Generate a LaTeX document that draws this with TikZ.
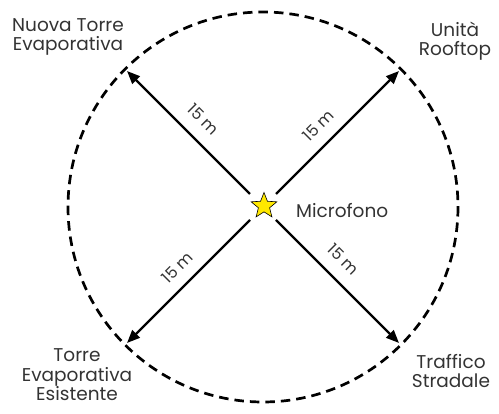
\documentclass[tikz,border=0pt]{standalone}
\usepackage{fontspec}
\setmainfont{Poppins}
\usetikzlibrary{shapes.geometric,arrows.meta}
\definecolor{txt}{HTML}{333333}
\definecolor{staryellow}{HTML}{FFE800}
\begin{document}
\begin{tikzpicture}[x=1pt,y=-1pt,
  lbl/.style={text=txt,font=\fontsize{18.5}{19.5}\selectfont,align=center,inner sep=0pt},
  dist/.style={text=txt,font=\fontsize{16}{17}\selectfont,inner sep=0pt},
  arr/.style={line width=2.3pt,-{Triangle[length=13pt,width=10.5pt]}},
  ring/.style={line width=2.7pt,dash pattern=on 9.5pt off 6pt}]
\useasboundingbox (0,0) rectangle (499,414);
\coordinate (c) at (263,207);
\draw[ring] (c) circle (195);
\node[star,star points=5,star point ratio=2.3,minimum size=27pt,inner sep=0pt,fill=staryellow,draw=black,line width=0.6pt] (mic) at (264,206) {};
\coordinate (tl) at (127,71);
\coordinate (tr) at (399,71);
\coordinate (bl) at (127,343);
\coordinate (br) at (399,343);
\coordinate (stl) at (250,194);
\coordinate (str) at (276,194);
\coordinate (sbl) at (250,220);
\coordinate (sbr) at (276,220);
\draw[arr] (stl) -- (tl);
\draw[arr] (str) -- (tr);
\draw[arr] (sbl) -- (bl);
\draw[arr] (sbr) -- (br);
\node[dist,rotate=-45] (d1) at (203.5,119.5) {15 m};
\node[dist,rotate=45] (d2) at (318.5,125.5) {15 m};
\node[dist,rotate=45] (d3) at (177.5,267.5) {15 m};
\node[dist,rotate=-45] (d4) at (343.5,259.5) {15 m};
\node[lbl,anchor=west] (mlab) at (296,211) {Microfono};
\node[lbl] (n1) at (68,37) {Nuova Torre\\Evaporativa};
\node[lbl] (n2) at (455,41) {Unità\\Rooftop};
\node[lbl] (n3) at (77,375) {Torre\\Evaporativa\\Esistente};
\node[lbl] (n4) at (451,371) {Traffico\\Stradale};
\end{tikzpicture}
\end{document}
